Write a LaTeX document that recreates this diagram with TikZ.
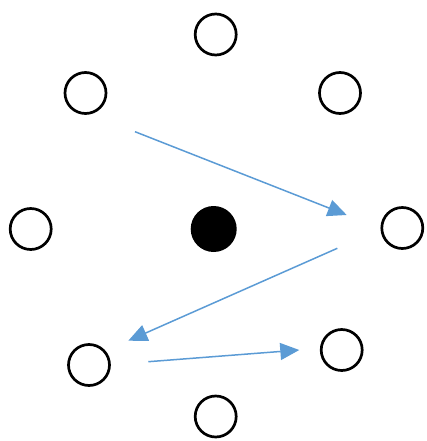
\documentclass[tikz,border=0pt]{standalone}
\usepackage{tikz}
\usetikzlibrary{arrows.meta}
\definecolor{arrowblue}{RGB}{91,155,213}

\begin{document}
\begin{tikzpicture}[x=1pt, y=-1pt,
    site/.style={circle, draw=black, line width=2.7pt, minimum size=41pt, inner sep=0pt},
    core/.style={circle, fill=black, minimum size=46pt, inner sep=0pt},
    hop/.style={-{Triangle[length=19pt, width=17pt]}, arrowblue, line width=1.5pt}]
    \useasboundingbox (0, 0) rectangle (427, 441);

    % ring of sites
    \node[site] (top)    at (215.7, 34.5) {};
    \node[site] (ulft)   at (85.5, 93) {};
    \node[site] (urgt)   at (340, 93) {};
    \node[site] (lft)    at (30.7, 229) {};
    \node[site] (rgt)    at (402.3, 228) {};
    \node[site] (llft)   at (89, 365) {};
    \node[site] (lrgt)   at (341.7, 350) {};
    \node[site] (bot)    at (215.7, 416.5) {};

    % centre
    \node[core] (ctr) at (213.7, 229) {};

    % hops
    \coordinate (h1a) at (135, 131.7);
    \coordinate (h1b) at (346.7, 215);
    \coordinate (h2a) at (337.3, 248.3);
    \coordinate (h2b) at (128.3, 340.7);
    \coordinate (h3a) at (148.3, 361.7);
    \coordinate (h3b) at (299.3, 350);

    \draw[hop] (h1a) -- (h1b);
    \draw[hop] (h2a) -- (h2b);
    \draw[hop] (h3a) -- (h3b);
\end{tikzpicture}
\end{document}
